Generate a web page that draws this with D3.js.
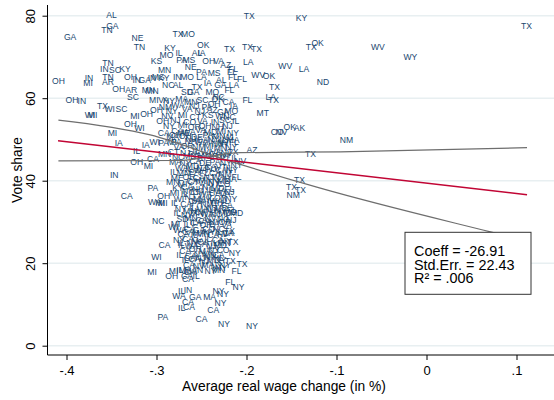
<!DOCTYPE html>
<html>
<head>
<meta charset="utf-8">
<script src="https://cdn.jsdelivr.net/npm/d3@7"></script>
<style>
html,body{margin:0;padding:0;background:#fff;}
svg{display:block;font-family:"Liberation Sans",Arial,Helvetica,sans-serif;}
</style>
</head>
<body>
<svg id="chart" width="554" height="400"></svg>
<script>
// ---------- data ----------
// sparse / outlying labels
const outlierStates = ("AL GA TN GA NE TN TX MO KY TX KY TX OK TX TX TX OK TX WV WY " +
  "MO IL AL IA KS PA MS OH VA AZ FL FL LA WV LA WV OK FL FL ND " +
  "LA FL TX LA TX FL MT OK AK CO NV NM TX AZ TX FL NY NV NY FL TX TX TX NM").split(" ");
const outlierWage = [-0.350,-0.349,-0.355,-0.396,-0.321,-0.319,-0.276,-0.265,-0.285,-0.197,
  -0.139,0.111,-0.248,-0.219,-0.199,-0.189,-0.121,-0.128,-0.054,-0.018,
  -0.289,-0.275,-0.255,-0.250,-0.300,-0.272,-0.264,-0.242,-0.231,-0.223,
  -0.215,-0.216,-0.198,-0.157,-0.136,-0.187,-0.175,-0.215,-0.205,-0.115,
  -0.214,-0.219,-0.169,-0.173,-0.170,-0.199,-0.182,-0.152,-0.141,-0.166,
  -0.161,-0.089,-0.129,-0.194,-0.215,-0.214,-0.226,-0.207,-0.211,-0.211,
  -0.141,-0.150,-0.140,-0.148];
const outlierVote = [80.2,77.5,76.5,74.9,74.7,72.5,75.5,75.5,72.2,79.9,
  79.5,77.6,72.9,72.0,72.5,71.9,73.5,72.5,72.5,70.1,
  70.5,70.9,70.9,71.1,69.0,69.4,69.3,69.0,69.0,68.0,
  67.2,66.4,68.7,67.9,67.1,65.7,65.4,65.1,64.7,64.0,
  63.3,62.0,62.8,60.2,59.7,59.6,56.5,53.1,52.7,51.9,
  51.9,49.9,46.5,47.4,47.0,49.5,49.1,44.8,43.8,41.0,
  40.2,38.4,37.7,36.5];

// left side and lower group
const sideStates = ("TN IN SC KY TN OH IN MI AR OH IN GA IN MS KY NC AL OH AR SC " +
  "MN MI VA OH IN TX WI SC WI MI MI OH OH WI MI IA IA IL WI PA " +
  "MI CA OH ME MN CA OH MI IN PA CA OH WA MI MI NC WI CA IL WI " +
  "MI MI OH IL MA CA CA IL WA GA IN MA CA CA IL PA CA CA NY NY " +
  "NY NY NY FL NY NY TX VA FL TX NY MD MD").split(" ");
const sideWage = [-0.354,-0.358,-0.346,-0.335,-0.354,-0.409,-0.375,-0.376,-0.354,-0.329,
  -0.322,-0.313,-0.305,-0.298,-0.292,-0.287,-0.276,-0.342,-0.328,-0.326,
  -0.305,-0.303,-0.292,-0.394,-0.383,-0.360,-0.352,-0.339,-0.374,-0.371,
  -0.324,-0.311,-0.329,-0.319,-0.349,-0.342,-0.312,-0.322,-0.302,-0.292,
  -0.283,-0.292,-0.279,-0.270,-0.291,-0.304,-0.322,-0.309,-0.347,-0.304,
  -0.333,-0.292,-0.302,-0.293,-0.296,-0.298,-0.281,-0.291,-0.273,-0.300,
  -0.305,-0.281,-0.283,-0.274,-0.268,-0.265,-0.263,-0.272,-0.275,-0.257,
  -0.265,-0.241,-0.265,-0.264,-0.272,-0.293,-0.250,-0.237,-0.229,-0.225,
  -0.194,-0.231,-0.226,-0.218,-0.209,-0.213,-0.215,-0.221,-0.211,-0.205,
  -0.228,-0.211,-0.224];
const sideVote = [68.5,67.2,66.8,67.2,65.2,64.3,64.8,63.8,64.0,65.1,
  64.4,64.4,64.9,65.1,64.8,63.2,63.2,62.2,62.0,60.4,
  61.8,59.5,59.7,59.7,59.4,58.1,57.3,57.5,55.9,55.9,
  55.8,56.1,53.7,52.7,51.5,49.1,48.7,47.3,49.3,49.2,
  49.3,51.7,51.2,51.5,46.6,45.4,44.5,43.6,41.4,38.3,
  36.3,36.4,34.9,34.7,34.5,30.3,28.7,24.4,24.8,21.6,
  17.9,18.2,16.9,18.4,18.4,16.3,18.0,13.3,12.1,11.9,
  13.5,11.9,10.7,9.5,9.1,6.9,6.6,8.7,10.3,5.3,
  4.8,13.3,12.5,15.5,14.3,22.4,25.2,27.4,18.1,19.8,
  18.8,32.1,32.1];

// upper part of the dense cluster
const topStates = "IN MO SD GA TX PA LA IA NC MN MN GA MO MS AL NE".split(" ");
const topWage = [-0.277,-0.266,-0.266,-0.259,-0.255,-0.250,-0.250,-0.243,-0.231,-0.309,-0.291,-0.229,-0.238,-0.236,-0.228,-0.262];
const topVote = [65.1,65.1,61.6,61.6,62.7,66.4,65.1,63.7,60.2,62.0,66.8,63.2,61.5,66.2,64.5,67.6];

// dense core of the cluster, row by row
const coreStates = [
  "NY MA MN SC OK CA","NM WA NJ PA OH IA","OH NY VA NJ AZ GA MO","NV MI CT KS WI NC",
  "OH NJ CO VA IN SC IL","NY MI OR OH NH NJ","CA WA VA MD MI NY","MA OH DE PA MN WI",
  "PA NH WA IA NJ NY","VA OR NM MI MN NY","CT NJ IL WI VA NV","NC MN RI CO OH IL",
  "MA NY CA DE PA NY","WA MD NJ CA VT IL","IL MN PA FL CA NM","ME OR CA NJ WA MA",
  "MN MI CT VA NY CO","KY CA NH NY MD FL","MI IL CT WA CA VA","WI NJ MA IL OR NY",
  "IL CA PA NM OH CA","NY IL MA NJ MD FL","IL NY MN WA NC","SD MN CA NV NC NJ",
  "MI IL CA OR PA VA","WA CA GA CO NC TX","CA IL MN CA NJ","NY CA MA IL CA NY",
  "IL WA CA NJ MD","CA OR MA NY CO","IL CA NY MN CA","IL CA NJ MD NY TX",
  "CA NV MA NY NY","MA IN NY MN","CA IL",
  "NJ CA NY IL MA","PA MN CA NY","IL WA NJ CA NY","CA MI NY MD","NY CA IL MA NJ",
  "CA NY WA IL","MN CA NJ NY MD","IL CA NY OR","CA MA NY IL CA","NY CA IL MN","CA NJ NY IL"];
const coreWage = [
  [-0.286,-0.272,-0.262,-0.249,-0.232,-0.220],[-0.290,-0.276,-0.258,-0.244,-0.236,-0.214],
  [-0.300,-0.283,-0.266,-0.252,-0.238,-0.226,-0.217],[-0.288,-0.271,-0.257,-0.243,-0.229,-0.219],
  [-0.293,-0.279,-0.263,-0.249,-0.235,-0.224,-0.212],[-0.286,-0.271,-0.258,-0.246,-0.232,-0.221],
  [-0.277,-0.264,-0.251,-0.240,-0.228,-0.215],[-0.282,-0.268,-0.255,-0.243,-0.231,-0.220],
  [-0.278,-0.262,-0.250,-0.238,-0.226,-0.232],[-0.275,-0.266,-0.253,-0.242,-0.229,-0.217],
  [-0.281,-0.268,-0.256,-0.245,-0.234,-0.222],[-0.276,-0.263,-0.250,-0.238,-0.227,-0.213],
  [-0.279,-0.268,-0.257,-0.246,-0.235,-0.223],[-0.272,-0.260,-0.250,-0.240,-0.228,-0.219],
  [-0.281,-0.270,-0.258,-0.247,-0.235,-0.224],[-0.277,-0.264,-0.253,-0.242,-0.231,-0.218],
  [-0.282,-0.271,-0.259,-0.248,-0.236,-0.225],[-0.276,-0.266,-0.254,-0.243,-0.232,-0.219],
  [-0.280,-0.269,-0.258,-0.246,-0.235,-0.224],[-0.275,-0.263,-0.252,-0.240,-0.229,-0.217],
  [-0.280,-0.267,-0.255,-0.244,-0.233,-0.222],[-0.273,-0.260,-0.249,-0.238,-0.228,-0.216],
  [-0.277,-0.266,-0.255,-0.244,-0.234],[-0.271,-0.262,-0.250,-0.240,-0.226,-0.217],
  [-0.279,-0.266,-0.256,-0.245,-0.236,-0.222],[-0.274,-0.263,-0.253,-0.242,-0.231,-0.219],
  [-0.270,-0.258,-0.248,-0.237,-0.227],[-0.275,-0.265,-0.254,-0.243,-0.232,-0.223],
  [-0.272,-0.261,-0.250,-0.239,-0.229],[-0.268,-0.257,-0.246,-0.236,-0.226],
  [-0.274,-0.262,-0.252,-0.241,-0.231],[-0.268,-0.258,-0.247,-0.237,-0.229,-0.218],
  [-0.264,-0.253,-0.243,-0.233,-0.224],[-0.262,-0.253,-0.240,-0.231],[-0.266,-0.256],
  [-0.262,-0.249,-0.237,-0.226,-0.215],[-0.259,-0.247,-0.235,-0.223],
  [-0.264,-0.251,-0.239,-0.228,-0.216],[-0.260,-0.248,-0.236,-0.225],
  [-0.265,-0.253,-0.241,-0.230,-0.219],[-0.258,-0.246,-0.234,-0.223],
  [-0.263,-0.251,-0.240,-0.229,-0.218],[-0.259,-0.247,-0.235,-0.224],
  [-0.265,-0.253,-0.241,-0.231,-0.220],[-0.260,-0.248,-0.236,-0.225],
  [-0.263,-0.251,-0.240,-0.229]];
const coreVote = [
  [59.3,59.8,59.1,59.6,59.9,59.2],[58.0,58.4,58.1,57.9,58.5,58.2],
  [57.1,56.8,57.3,56.9,57.2,56.7,57.0],[55.6,55.9,55.5,56.0,55.7,55.4],
  [54.4,54.7,54.3,54.6,54.2,54.8,54.5],[53.2,53.5,53.0,53.4,53.1,53.3],
  [52.0,51.8,52.2,51.9,52.1,51.7],[50.7,50.9,50.6,51.0,50.8,50.5],
  [49.4,49.7,49.3,49.6,49.5,48.8],[48.2,48.5,48.1,48.4,48.0,48.3],
  [47.1,46.8,47.2,46.9,47.0,46.7],[45.7,45.9,45.6,46.0,45.8,45.5],
  [44.6,44.3,44.7,44.4,44.5,44.2],[43.2,43.5,43.1,43.4,43.3,43.0],
  [42.1,41.8,42.2,41.9,42.0,41.7],[40.7,41.0,40.6,40.9,40.8,40.5],
  [39.6,39.3,39.7,39.4,39.5,39.2],[38.2,38.5,38.1,38.4,38.3,38.0],
  [37.1,36.8,37.2,36.9,37.0,36.7],[35.7,36.0,35.6,35.9,35.8,35.5],
  [34.6,34.3,34.7,34.4,34.5,34.2],[33.2,33.5,33.1,33.4,33.3,33.0],
  [32.1,31.8,32.2,31.9,32.0],[30.7,31.0,30.6,30.9,30.8,30.5],
  [29.6,29.3,29.7,29.4,29.5,29.2],[28.1,28.4,28.0,28.3,28.2,27.9],
  [27.1,26.8,27.2,26.9,27.0],[25.6,25.9,25.5,25.8,25.7,25.4],
  [24.5,24.2,24.6,24.3,24.4],[23.1,23.4,23.0,23.3,23.2],
  [22.1,21.8,22.2,21.9,22.0],[20.7,21.0,20.6,20.9,20.8,20.5],
  [19.6,19.3,19.7,19.4,19.5],[18.2,18.4,18.1,18.3],[17.0,16.8],
  [50.1,49.9,50.2,50.0,49.8],[46.4,46.2,46.5,46.3],
  [42.8,42.6,42.9,42.7,42.5],[39.9,40.1,39.8,40.0],
  [37.6,37.4,37.7,37.5,37.3],[35.1,35.3,35.0,35.2],
  [32.7,32.5,32.8,32.6,32.4],[30.0,30.2,29.9,30.1],
  [27.6,27.4,27.7,27.5,27.3],[24.9,25.1,24.8,25.0],
  [21.4,21.2,21.5,21.3]];

// fitted lines
const fitWage = [-0.4094, 0.1117];
const fitVote = [49.7, 36.6];
const upperWage = [-0.409, -0.307, -0.222, -0.118, 0.071, 0.1117];
const upperVote = [54.7, 51.1, 45.0, 38.2, 27.6, 25.4];
const flatWage = [-0.409, -0.277, -0.207, -0.096, 0.1117];
const flatVote = [44.8, 44.9, 46.8, 47.0, 48.0];

const xTickValues = [-0.4, -0.3, -0.2, -0.1, 0, 0.1];
const xTickLabels = ["-.4", "-.3", "-.2", "-.1", "0", ".1"];
const yTickValues = [0, 20, 40, 60, 80];
const yTickLabels = ["0", "20", "40", "60", "80"];
const statLines = ["Coeff = -26.91", "Std.Err. = 22.43", "R\u00B2 = .006"];
const xTitle = "Average real wage change (in %)";
const yTitle = "Vote share";

// ---------- build ----------
const points = [];
outlierStates.forEach((s, i) => points.push({s, x: outlierWage[i], y: outlierVote[i]}));
sideStates.forEach((s, i) => points.push({s, x: sideWage[i], y: sideVote[i]}));
topStates.forEach((s, i) => points.push({s, x: topWage[i], y: topVote[i]}));
coreStates.forEach((row, r) => row.split(" ").forEach((s, i) =>
  points.push({s, x: coreWage[r][i], y: coreVote[r][i]})));

const svg = d3.select("#chart");
const L = 47.5, R = 554, T = 5, B = 355;
const x = d3.scaleLinear().domain([-0.4, 0.1]).range([66.5, 516.5]);
const y = d3.scaleLinear().domain([0, 80]).range([345.7, 15.7]);

// gridlines
svg.append("g").selectAll("line").data(yTickValues).join("line")
  .attr("x1", L).attr("x2", R).attr("y1", d => y(d)).attr("y2", d => y(d))
  .attr("stroke", "#e8eff1").attr("stroke-width", 1.4);

// labels
svg.append("g").selectAll("text").data(points).join("text")
  .attr("x", d => x(d.x)).attr("y", d => y(d.y)).attr("dy", "0.36em")
  .attr("text-anchor", "middle").attr("font-size", 8.6).attr("fill", "#1a476f")
  .text(d => d.s);

// lines
const line = d3.line().x(d => x(d[0])).y(d => y(d[1])).curve(d3.curveMonotoneX);
svg.append("path").datum(upperWage.map((v, i) => [v, upperVote[i]]))
  .attr("d", line).attr("fill", "none").attr("stroke", "#6e6e6e").attr("stroke-width", 1.2);
svg.append("path").datum(flatWage.map((v, i) => [v, flatVote[i]]))
  .attr("d", line).attr("fill", "none").attr("stroke", "#6e6e6e").attr("stroke-width", 1.2);
svg.append("path").datum(fitWage.map((v, i) => [v, fitVote[i]]))
  .attr("d", d3.line().x(d => x(d[0])).y(d => y(d[1])))
  .attr("fill", "none").attr("stroke", "#c10534").attr("stroke-width", 1.5);

// axes
const xAxis = svg.append("g").attr("transform", `translate(0,${B})`)
  .call(d3.axisBottom(x).tickValues(xTickValues).tickSize(5)
    .tickFormat((d, i) => xTickLabels[i]));
xAxis.select(".domain").remove();
xAxis.selectAll("text").attr("y", 20).attr("dy", null).attr("font-size", 13)
  .attr("font-family", "Liberation Sans, Arial, sans-serif").attr("fill", "#000");
const yAxis = svg.append("g").attr("transform", `translate(${L},0)`)
  .call(d3.axisLeft(y).tickValues(yTickValues).tickSize(5)
    .tickFormat((d, i) => yTickLabels[i]));
yAxis.select(".domain").remove();
yAxis.selectAll("text").attr("transform", "rotate(-90)").attr("x", 0).attr("y", -13)
  .attr("dy", null).attr("text-anchor", "middle").attr("font-size", 13)
  .attr("font-family", "Liberation Sans, Arial, sans-serif").attr("fill", "#000");
svg.append("line").attr("x1", L).attr("x2", L).attr("y1", T).attr("y2", B)
  .attr("stroke", "#000").attr("stroke-width", 1);
svg.append("line").attr("x1", L).attr("x2", R).attr("y1", B).attr("y2", B)
  .attr("stroke", "#000").attr("stroke-width", 1);

// titles
svg.append("text").attr("x", 284).attr("y", 390.5).attr("text-anchor", "middle")
  .attr("font-size", 13.8).text(xTitle);
svg.append("text").attr("transform", "translate(21.5,170) rotate(-90)")
  .attr("text-anchor", "middle").attr("font-size", 13.8).text(yTitle);

// stats box
const box = svg.append("g");
box.append("rect").attr("x", 405).attr("y", 232.3).attr("width", 126).attr("height", 62)
  .attr("fill", "#fff").attr("stroke", "#333").attr("stroke-width", 1);
box.selectAll("text").data(statLines).join("text")
  .attr("x", 414).attr("y", (d, i) => 256 + i * 13.6)
  .attr("font-size", 14.4).text(d => d);
</script>
</body>
</html>
